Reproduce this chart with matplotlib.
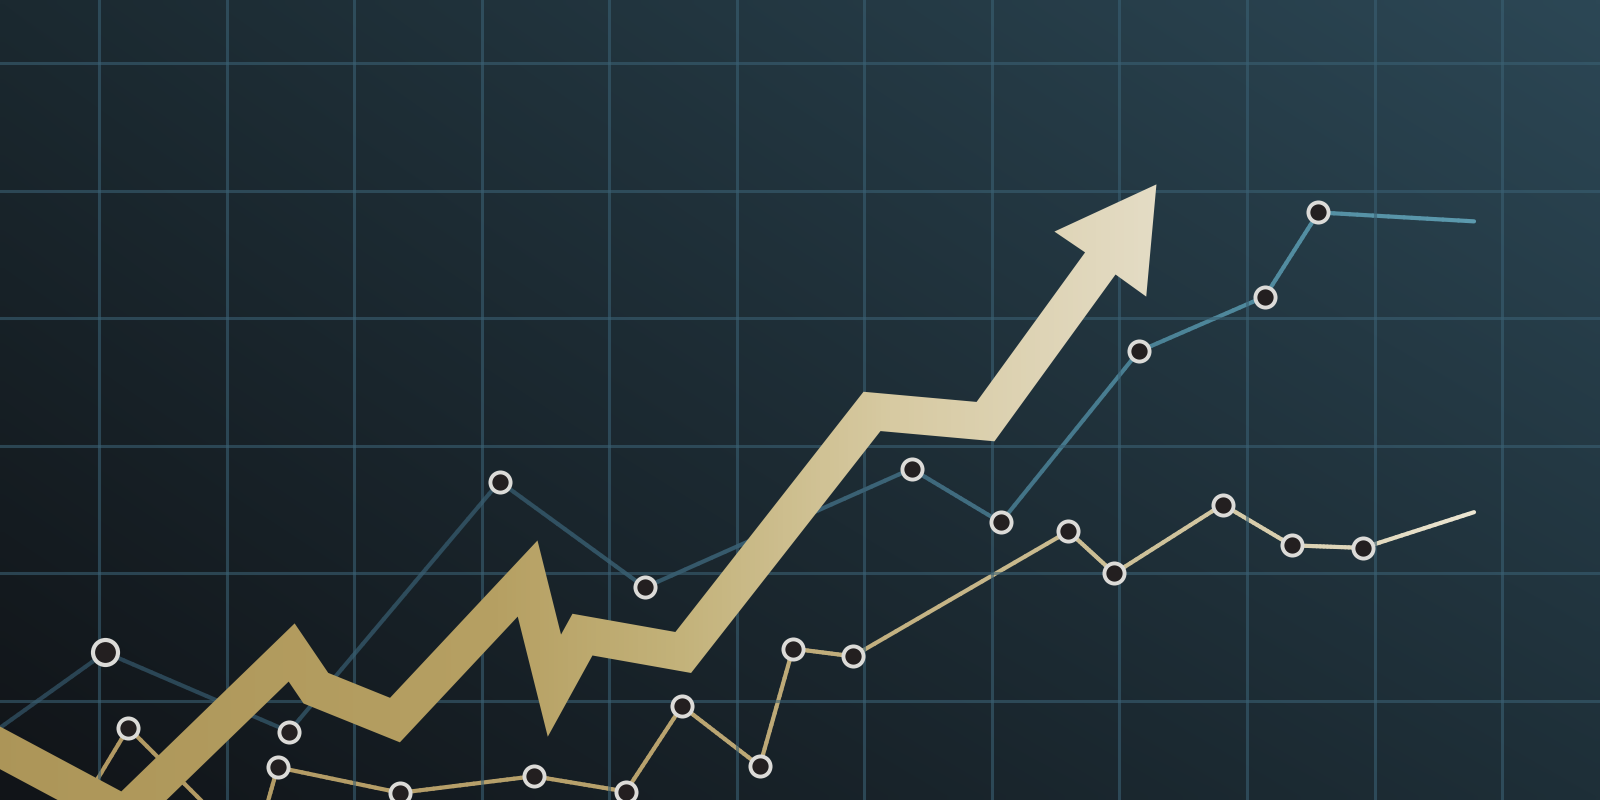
#!/usr/bin/env python3

import numpy as np
import matplotlib
matplotlib.use("Agg")
from matplotlib import pyplot as plt
from matplotlib.collections import LineCollection
from matplotlib.colors import LinearSegmentedColormap, to_rgb
from matplotlib.patches import Polygon

OUT_FILE = "out.png"
PX = 127.55  # pixels per grid unit

# thin teal series (grid units)
blue_x = [0.00, 1.05, 2.49, 4.14, 5.28, 7.37, 8.07, 9.15, 10.14, 10.56, 11.78]
blue_y = [0.63, 1.38, 0.76, 2.72, 1.89, 2.82, 2.40, 3.74, 4.17, 4.83, 4.76]
blue_marked = [2, 3, 4, 5, 6, 7, 8, 9]
blue_big = [1]  # the first marker is drawn a bit larger

# thin gold series
gold_x = [0.70, 1.23, 2.21, 2.40, 3.36, 4.41, 5.13, 5.57, 6.18, 6.44, 6.91,
          8.60, 8.96, 9.81, 10.35, 10.91, 11.78]
gold_y = [-0.09, 0.79, -0.19, 0.48, 0.28, 0.41, 0.29, 0.96, 0.49, 1.41, 1.35,
          2.33, 2.00, 2.54, 2.22, 2.20, 2.48]
gold_marked = [1, 3, 4, 5, 6, 7, 8, 9, 10, 11, 12, 13, 14, 15]

# big trend arrow: shaft centre line and head
arrow_x = [-0.09, 1.20, 2.51, 2.70, 3.32, 4.36, 4.57, 4.79, 5.58, 7.06, 7.95, 8.85]
arrow_y = [0.80, 0.11, 1.38, 1.10, 0.85, 1.96, 1.12, 1.52, 1.38, 3.27, 3.19, 4.43]
head_x = [8.49, 9.29, 9.21]
head_y = [4.68, 5.05, 4.17]
ARROW_WIDTH = 0.295

# background corner colours
BG_TL = "#1b2930"
BG_TR = "#2c4755"
BG_BL = "#111418"
BG_BR = "#1e2f38"

blue_cmap = LinearSegmentedColormap.from_list("blue", [
    (0.0, "#294251"), (0.35, "#2f4e5e"), (0.6, "#3b6275"),
    (0.78, "#4a8195"), (1.0, "#5c9aae")])
gold_cmap = LinearSegmentedColormap.from_list("gold", [
    (0.0, "#b09760"), (0.45, "#b8a26d"), (0.6, "#c2b07f"),
    (0.8, "#cfc39c"), (1.0, "#ebe5d1")])
arrow_cmap = LinearSegmentedColormap.from_list("arrow", [
    (0.0, "#ac9558"), (0.45, "#b6a063"), (0.6, "#c3b27a"),
    (0.78, "#d7caa2"), (1.0, "#e4dcc5")])


def draw_background(ax, x0, x1, y0, y1):
    h, w = 100, 200
    tl, tr = np.array(to_rgb(BG_TL)), np.array(to_rgb(BG_TR))
    bl, br = np.array(to_rgb(BG_BL)), np.array(to_rgb(BG_BR))
    fx = np.linspace(0, 1, w)[None, :, None]
    fy = np.linspace(0, 1, h)[:, None, None]  # 0 at top
    top = tl * (1 - fx) + tr * fx
    bot = bl * (1 - fx) + br * fx
    img = top * (1 - fy) + bot * fy
    ax.imshow(img, extent=[x0, x1, y0, y1], aspect="auto", zorder=0,
              interpolation="bilinear")


def gradient_line(ax, xs, ys, cmap, xmax, lw, z):
    segs = []
    cols = []
    for i in range(len(xs) - 1):
        t = np.linspace(0, 1, 21)
        px = xs[i] + (xs[i + 1] - xs[i]) * t
        py = ys[i] + (ys[i + 1] - ys[i]) * t
        for k in range(20):
            segs.append([(px[k], py[k]), (px[k + 1], py[k + 1])])
            cols.append(cmap(np.clip((px[k] + px[k + 1]) / 2 / xmax, 0, 1)))
    lc = LineCollection(segs, colors=cols, linewidths=lw, capstyle="round",
                        zorder=z)
    ax.add_collection(lc)


def stroke_outline(xs, ys, half):
    p = np.column_stack([xs, ys])
    d = np.diff(p, axis=0)
    d = d / np.linalg.norm(d, axis=1)[:, None]
    n = np.column_stack([-d[:, 1], d[:, 0]])
    left, right = [], []
    for i in range(len(p)):
        if i == 0:
            m = n[0] * half
        elif i == len(p) - 1:
            m = n[-1] * half
        else:
            m = (n[i - 1] + n[i]) * half / (1 + n[i - 1] @ n[i])
        left.append(p[i] + m)
        right.append(p[i] - m)
    return np.array(left), np.array(right)


def draw_arrow(ax):
    left, right = stroke_outline(arrow_x, arrow_y, ARROW_WIDTH / 2)
    head = np.column_stack([head_x, head_y])
    outline = np.vstack([left, head, right[::-1]])
    poly = Polygon(outline, closed=True, facecolor="none", edgecolor="none")
    ax.add_patch(poly)
    grad = np.linspace(0, 1, 256).reshape(1, -1)
    im = ax.imshow(grad, extent=[min(arrow_x), max(head_x), -0.5, 5.5],
                   cmap=arrow_cmap, aspect="auto", zorder=3)
    im.set_clip_path(poly)


def draw_markers(ax, xs, ys, idx, size=14.5, edge=2.8):
    mx = [xs[i] for i in idx]
    my = [ys[i] for i in idx]
    ax.plot(mx, my, linestyle="none", marker="o", markersize=size,
            markerfacecolor="#231f20", markeredgecolor="#dcdbd8",
            markeredgewidth=edge, zorder=5)


def main():
    fig = plt.figure(figsize=(16, 8), dpi=100)
    ax = fig.add_axes([0, 0, 1, 1])
    x0, x1 = 28.5 / PX, 1628.5 / PX
    y0, y1 = 28.5 / PX, 828.5 / PX

    draw_background(ax, x0, x1, y0, y1)

    # grid via the axes ticks
    ax.set_xticks(np.arange(1, 13))
    ax.set_yticks(np.arange(1, 7))
    ax.grid(True, color="#3a6073", alpha=0.6, linewidth=2.2, zorder=1)
    ax.set_axisbelow(False)
    ax.tick_params(length=0, labelbottom=False, labelleft=False)
    for s in ax.spines.values():
        s.set_visible(False)

    gradient_line(ax, blue_x, blue_y, blue_cmap, 11.8, 3.0, 2)
    gradient_line(ax, gold_x, gold_y, gold_cmap, 11.8, 3.0, 2)
    draw_arrow(ax)
    draw_markers(ax, blue_x, blue_y, blue_marked)
    draw_markers(ax, blue_x, blue_y, blue_big, size=18, edge=3.0)
    draw_markers(ax, gold_x, gold_y, gold_marked)

    ax.set_xlim(x0, x1)
    ax.set_ylim(y0, y1)
    fig.savefig(OUT_FILE, dpi=100)


if __name__ == "__main__":
    main()
